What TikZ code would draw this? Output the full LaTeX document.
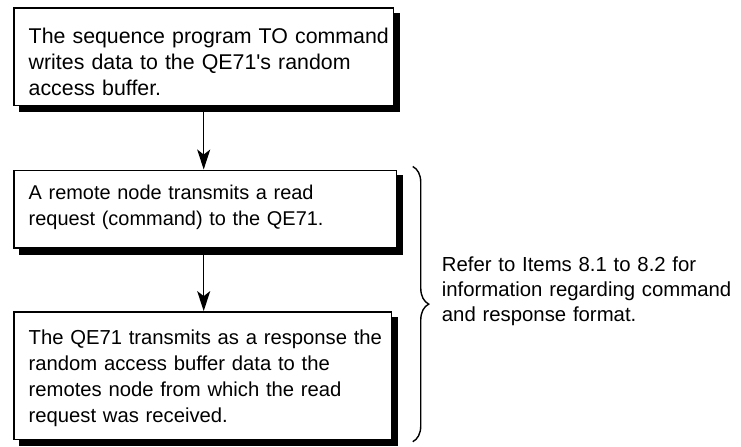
\documentclass[tikz,border=0pt]{standalone}
\usepackage{fontspec}
\setmainfont{Liberation Sans}
\usetikzlibrary{arrows.meta, decorations.pathreplacing, calc}

\begin{document}
\begin{tikzpicture}[x=1pt,y=-1pt,
  stepbox/.style={draw,line width=1.6pt,fill=white,anchor=north west,inner sep=0pt,
    align=left,font=\fontsize{#1}{26}\selectfont,
    execute at begin node={\leftskip=15pt\rightskip=-20pt plus 1fil}},
  flow/.style={line width=1.5pt,-{Stealth[length=20pt,width=13pt,inset=5pt]}},
  note/.style={inner sep=0pt,align=left,text width=300pt,anchor=base west,
    font=\fontsize{20.4}{25}\selectfont}]
  \fill[white] (0,0) rectangle (741,444);
  % the three steps
  \node[stepbox=21.4,text width=381pt,text height=36pt,text depth=62pt] (write) at (13,7)
    {The sequence program TO command\\writes data to the QE71\textquotesingle s random\\access buffer.};
  \node[stepbox=20,text width=384pt,text height=29pt,text depth=49pt] (request) at (13,170)
    {A remote node transmits a read\\request (command) to the QE71.};
  \node[stepbox=20.3,text width=379pt,text height=33pt,text depth=95pt] (reply) at (13,312)
    {The QE71 transmits as a response the\\random access buffer data to the\\remotes node from which the read\\request was received.};
  % shadows
  \foreach \bx in {write,request,reply}{
    \fill ($(\bx.north east)+(0pt,-6pt)$) rectangle ($(\bx.south east)+(6pt,-6pt)$);
    \fill ($(\bx.south west)+(6pt,0pt)$) rectangle ($(\bx.south east)+(6pt,-6pt)$);
  }
  % arrows
  \draw[flow] (write.south) -- (write.south |- request.north);
  \draw[flow] (write.south |- request.south) -- (write.south |- reply.north);
  % brace and note
  \coordinate (brtop) at (414,167);
  \coordinate (brbot) at (414,443);
  \draw[line width=1.4pt,decorate,decoration={brace,amplitude=16pt}] (brtop) -- (brbot);
  \node[note] (refer) at (443,272)
    {Refer to Items 8.1 to 8.2 for\\information regarding command\\and response format.};
\end{tikzpicture}
\end{document}
